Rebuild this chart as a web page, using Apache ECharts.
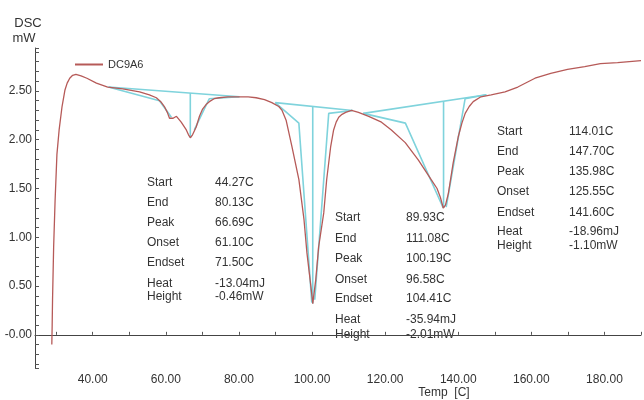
<!DOCTYPE html>
<html>
<head>
<meta charset="utf-8">
<script src="https://cdn.jsdelivr.net/npm/echarts@6/dist/echarts.min.js"></script>
<style>
  html, body { margin: 0; padding: 0; background: #fff; }
  #chart { width: 644px; height: 400px; }
</style>
</head>
<body>
<div id="chart"></div>
<script>
// DSC curve, temperature [C] and heat flow [mW]
var temps = [28.8, 28.9, 29.0, 29.3, 29.7, 30.2, 30.8, 31.6, 32.4, 33.0, 33.7, 34.5, 35.4, 36.8, 38.4,
  41.0, 44.1, 48.2, 52.8, 55.5, 57.4, 58.6, 59.6, 60.4, 61.0, 61.3, 62.0, 62.9, 64.2, 65.6, 66.2,
  66.7, 67.3, 68.3, 69.2, 70.0, 71.0, 71.9, 73.2, 74.6, 77.0, 80.0, 82.5, 84.7, 87.0, 89.0, 90.9,
  91.8, 92.9, 94.5, 96.4, 97.8, 98.6, 99.7, 100.2, 101.0, 101.8, 103.2, 104.0, 105.1, 105.9,
  106.6, 107.3, 108.2, 109.2, 110.8, 112.7, 115.5, 119.0, 121.7, 125.5, 129.1, 132.6, 134.2,
  135.1, 135.9, 136.5, 137.3, 138.6, 140.0, 141.0, 141.9, 143.0, 144.1, 146.2, 149.0, 152.8,
  156.3, 161.0, 165.3, 169.9, 174.6, 178.9, 183.6, 190.0];
var dsc = [-0.10, 0.10, 0.36, 0.90, 1.38, 1.85, 2.10, 2.34, 2.51, 2.58, 2.63, 2.66, 2.67, 2.655, 2.63,
  2.58, 2.54, 2.52, 2.49, 2.46, 2.43, 2.39, 2.34, 2.28, 2.22, 2.20, 2.22, 2.24, 2.18, 2.10, 2.05,
  2.02, 2.05, 2.13, 2.24, 2.31, 2.36, 2.39, 2.42, 2.43, 2.44, 2.44, 2.44, 2.43, 2.41, 2.38, 2.34,
  2.30, 2.20, 1.93, 1.59, 1.18, 0.84, 0.49, 0.32, 0.56, 0.90, 1.25, 1.59, 1.93, 2.10,
  2.18, 2.23, 2.26, 2.28, 2.30, 2.28, 2.24, 2.18, 2.10, 1.97, 1.79, 1.59, 1.50,
  1.41, 1.30, 1.33, 1.45, 1.76, 2.03, 2.17, 2.27, 2.34, 2.39, 2.44, 2.46, 2.49,
  2.54, 2.63, 2.68, 2.72, 2.75, 2.78, 2.79, 2.81];

// analysis construction lines [temp, mW]
var peak1Baseline = [[44.27, 2.54], [80.13, 2.44]];
var peak1Vertical = [[66.69, 2.48], [66.69, 2.02]];
var peak1Left = [[44.27, 2.54], [58.25, 2.40], [61.52, 2.23]];
var peak1Right = [[80.13, 2.44], [71.87, 2.42], [67.79, 2.10]];
var peak2Baseline = [[89.93, 2.38], [111.08, 2.30]];
var peak2Vertical = [[100.19, 2.34], [100.19, 0.32]];
var peak2Left = [[89.93, 2.38], [96.39, 2.17], [99.93, 0.33]];
var peak2Right = [[111.08, 2.30], [104.56, 2.27], [100.74, 0.36]];
var peak3Baseline = [[114.01, 2.27], [147.70, 2.46]];
var peak3Vertical = [[135.98, 2.39], [135.98, 1.30]];
var peak3Left = [[114.01, 2.27], [125.54, 2.17], [135.89, 1.30]];
var peak3Right = [[147.70, 2.46], [141.88, 2.42], [136.70, 1.31]];

// result tables
var resultLabels = ['Start', 'End', 'Peak', 'Onset', 'Endset', 'Heat', 'Height'];
var peak1Values = ['44.27C', '80.13C', '66.69C', '61.10C', '71.50C', '-13.04mJ', '-0.46mW'];
var peak2Values = ['89.93C', '111.08C', '100.19C', '96.58C', '104.41C', '-35.94mJ', '-2.01mW'];
var peak3Values = ['114.01C', '147.70C', '135.98C', '125.55C', '141.60C', '-18.96mJ', '-1.10mW'];

var FONT = '"Liberation Sans", Arial, sans-serif';
var curveColor = '#b65a58';
var cyan = '#7fd3dc';

var chart = echarts.init(document.getElementById('chart'));

var curveData = temps.map(function (t, i) { return [t, dsc[i]]; });

var construction = [peak1Baseline, peak1Vertical, peak1Left, peak1Right,
  peak2Baseline, peak2Vertical, peak2Left, peak2Right,
  peak3Baseline, peak3Vertical, peak3Left, peak3Right];

var series = construction.map(function (pts) {
  return {
    type: 'line',
    data: pts,
    symbol: 'none',
    silent: true,
    z: 2,
    lineStyle: { color: cyan, width: 1.6 }
  };
});
series.push({
  name: 'DC9A6',
  type: 'line',
  data: curveData,
  symbol: 'none',
  smooth: false,
  z: 3,
  lineStyle: { color: curveColor, width: 1.3 },
  itemStyle: { color: curveColor }
});

function block(labels, values, lx, vx, y0, offs) {
  var out = [];
  labels.forEach(function (lab, i) {
    out.push({ type: 'text', x: lx, y: y0 + offs[i],
      style: { text: lab, font: '12px ' + FONT, fill: '#333', verticalAlign: 'middle' } });
    out.push({ type: 'text', x: vx, y: y0 + offs[i],
      style: { text: values[i], font: '12px ' + FONT, fill: '#333', verticalAlign: 'middle' } });
  });
  return out;
}

var graphics = []
  .concat(block(resultLabels, peak1Values, 147, 215, 183, [0, 20, 40, 60, 80, 101, 114]))
  .concat(block(resultLabels, peak2Values, 335, 406, 218, [0, 21, 41, 62, 81, 102, 117]))
  .concat(block(resultLabels, peak3Values, 497, 569, 132, [0, 20, 40, 60, 81, 100, 114]));
graphics.push({ type: 'text', x: 28, y: 23,
  style: { text: 'DSC', font: '13px ' + FONT, fill: '#333', align: 'center', verticalAlign: 'middle' } });
graphics.push({ type: 'text', x: 24, y: 38,
  style: { text: 'mW', font: '13px ' + FONT, fill: '#333', align: 'center', verticalAlign: 'middle' } });
graphics.push({ type: 'text', x: 444, y: 393,
  style: { text: 'Temp  [C]', font: '12px ' + FONT, fill: '#333', align: 'center', verticalAlign: 'middle' } });

function isStep(v, step) {
  var q = v / step;
  return Math.abs(q - Math.round(q)) < 1e-6;
}

chart.setOption({
  backgroundColor: '#fff',
  animation: false,
  textStyle: { fontFamily: FONT },
  grid: { left: 35, right: 0, top: 48, bottom: 32 },
  legend: {
    data: ['DC9A6'],
    left: 70,
    top: 54,
    icon: 'rect',
    itemWidth: 28,
    itemHeight: 2,
    textStyle: { fontSize: 11, color: '#333', fontFamily: FONT }
  },
  xAxis: {
    type: 'value',
    min: 24.2,
    max: 190,
    splitNumber: 17,
    splitLine: { show: false },
    axisLine: { lineStyle: { color: '#444', width: 1 } },
    axisTick: { inside: true, length: 3, lineStyle: { color: '#555' } },
    axisLabel: {
      color: '#333', fontSize: 12, margin: 6,
      formatter: function (v) {
        return (isStep(v, 20) && v >= 40) ? v.toFixed(2) : '';
      }
    }
  },
  yAxis: {
    type: 'value',
    min: -0.34,
    max: 2.94,
    splitNumber: 33,
    splitLine: { show: false },
    axisLine: { show: true, lineStyle: { color: '#444', width: 1 } },
    axisTick: { inside: true, length: 4, lineStyle: { color: '#555' } },
    axisLabel: {
      color: '#333', fontSize: 12, margin: 3,
      formatter: function (v) {
        if (!isStep(v, 0.5)) return '';
        if (Math.abs(v) < 1e-6) return '-0.00';
        return v.toFixed(2);
      }
    }
  },
  graphic: graphics,
  series: series
});
</script>
</body>
</html>
